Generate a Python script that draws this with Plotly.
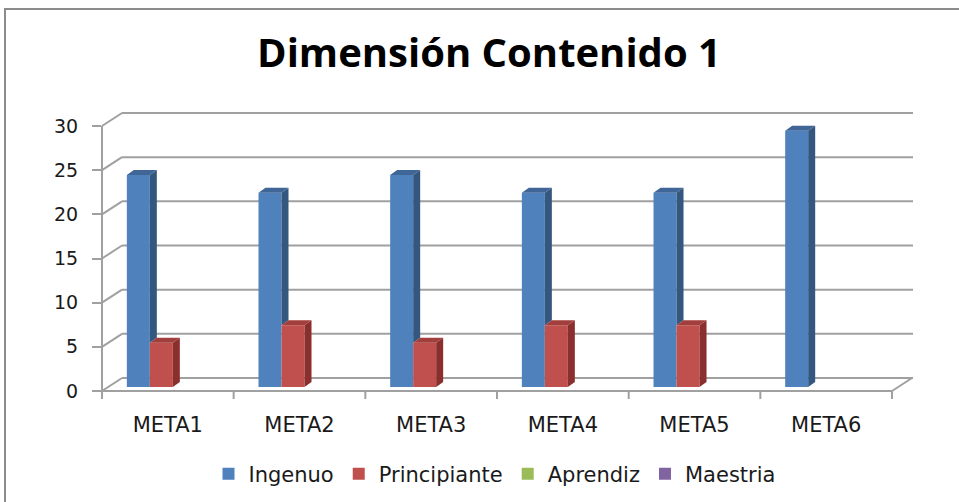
import plotly.graph_objects as go

# ---------------- data ----------------
CATEGORIES = ["META1", "META2", "META3", "META4", "META5", "META6"]
INGENUO = [24, 22, 24, 22, 22, 29]
PRINCIPIANTE = [5, 7, 5, 7, 7, 0]
APRENDIZ = [0, 0, 0, 0, 0, 0]
MAESTRIA = [0, 0, 0, 0, 0, 0]
SERIES_NAMES = ["Ingenuo", "Principiante", "Aprendiz", "Maestria"]
Y_TICKS = [0, 5, 10, 15, 20, 25, 30]
TITLE = "Dimensión Contenido 1"

SERIES = [INGENUO, PRINCIPIANTE, APRENDIZ, MAESTRIA]
FRONT = ["#4F81BD", "#C0504D", "#9BBB59", "#8064A2"]
SIDE = ["#34577F", "#8A2F2D", "#6E8A3A", "#5B4679"]
TOP = ["#3F6696", "#A23F3C", "#84A24A", "#6C548E"]

# ---------------- geometry (pixels) ----------------
W, H = 959, 502
ML, MR, MT, MB = 102, 46, 113, 111
PW, PH = W - ML - MR, H - MT - MB
CAT_PX = 131.67          # width of one category on the front axis
UNIT_PX = 265 / 30.0     # pixels per value unit on the front axis
X0 = -0.5
X1 = X0 + PW / CAT_PX
Y0 = 0.0
Y1 = PH / UNIT_PX

WALL_DX, WALL_DY = 20, 13      # back wall offset
BAR_SHIFT_X, BAR_SHIFT_Y = 5, 4
BAR_DX, BAR_DY = 7, 5
BAR_W_PX = 23

ux = lambda px: px / CAT_PX
uy = lambda px: px / UNIT_PX
BAR_W = ux(BAR_W_PX)
BASE = uy(BAR_SHIFT_Y)
DDX, DDY = ux(BAR_DX), uy(BAR_DY)


def to_px(xv, yv):
    return ML + (xv - X0) * CAT_PX, H - MB - (yv - Y0) * UNIT_PX


def paper(px, py):
    return (px - ML) / PW, (H - MB - py) / PH


def line(p1, p2, color="#a0a0a0", width=2):
    a, b = paper(*p1), paper(*p2)
    return dict(type="line", xref="paper", yref="paper", x0=a[0], y0=a[1],
                x1=b[0], y1=b[1], line=dict(color=color, width=width), layer="below")


fig = go.Figure()

xs = list(range(len(CATEGORIES)))
n = len(SERIES)
for k, (name, vals) in enumerate(zip(SERIES_NAMES, SERIES)):
    off = ux(BAR_SHIFT_X) - n / 2 * BAR_W + k * BAR_W
    fig.add_trace(go.Bar(
        x=xs, y=vals, base=[BASE] * len(vals), offset=off, width=BAR_W,
        name=name, marker=dict(color=FRONT[k], line=dict(width=0)),
        hovertemplate="%{y}<extra>" + name + "</extra>"))

# 3D faces
for k, vals in enumerate(SERIES):
    off = ux(BAR_SHIFT_X) - n / 2 * BAR_W + k * BAR_W
    sx, sy, tx, ty = [], [], [], []
    for i, v in enumerate(vals):
        if v <= 0:
            continue
        xl = xs[i] + off
        xr = xl + BAR_W
        top = BASE + v
        nxt = SERIES[k + 1][i] if k + 1 < n else 0
        b0 = BASE + min(nxt, v)
        sx += [xr, xr + DDX, xr + DDX, xr, xr, None]
        sy += [b0, b0 + DDY, top + DDY, top, b0, None]
        tx += [xl, xr, xr + DDX, xl + DDX, xl, None]
        ty += [top, top, top + DDY, top + DDY, top, None]
    if sx:
        fig.add_trace(go.Scatter(x=sx, y=sy, mode="lines", fill="toself",
                                 fillcolor=SIDE[k], line=dict(width=0),
                                 showlegend=False, hoverinfo="skip"))
        fig.add_trace(go.Scatter(x=tx, y=ty, mode="lines", fill="toself",
                                 fillcolor=TOP[k], line=dict(width=0),
                                 showlegend=False, hoverinfo="skip"))

# walls, floor, axis lines
shapes = []
right_back_px = ML + PW
for t in Y_TICKS:
    fx, fy = to_px(X0, t)
    shapes.append(line((fx + WALL_DX, fy - WALL_DY), (right_back_px, fy - WALL_DY)))
    shapes.append(line((fx, fy), (fx + WALL_DX, fy - WALL_DY)))
fx0, fy0 = to_px(X0, 0)
fxe, _ = to_px(len(CATEGORIES) - 0.5, 0)
shapes.append(line((fx0, fy0), (fxe, fy0)))
shapes.append(line((fxe, fy0), (fxe + WALL_DX, fy0 - WALL_DY)))
_, fy30 = to_px(X0, Y_TICKS[-1])
shapes.append(line((fx0, fy30), (fx0, fy0 + 8)))
for j in range(len(CATEGORIES) + 1):
    bx, _ = to_px(X0 + j, 0)
    shapes.append(line((bx, fy0), (bx, fy0 + 8)))
# outer border
b1, b2 = paper(5, 9), paper(970, 515)
shapes.append(dict(type="rect", xref="paper", yref="paper", x0=b1[0], y0=b1[1],
                   x1=b2[0], y1=b2[1], line=dict(color="#8c8c8c", width=2),
                   fillcolor="rgba(0,0,0,0)", layer="below"))

fig.update_layout(
    width=W, height=H,
    margin=dict(l=ML, r=MR, t=MT, b=MB, pad=0, autoexpand=False),
    paper_bgcolor="white", plot_bgcolor="white",
    barmode="overlay",
    shapes=shapes,
    title=dict(text=TITLE, x=489 / W, xanchor="center", y=1 - 53 / H, yanchor="middle",
               font=dict(family="Open Sans", size=40, color="black", weight="bold")),
    xaxis=dict(range=[X0, X1], tickvals=xs, ticktext=CATEGORIES, ticks="",
               showgrid=False, zeroline=False, showline=False, fixedrange=True,
               ticklabelstandoff=19, tickangle=0, automargin=False,
               tickfont=dict(family="DejaVu Sans", size=21, color="#1a1a1a")),
    yaxis=dict(range=[Y0, Y1], tickvals=Y_TICKS, ticks="outside", ticklen=9,
               tickwidth=2, tickcolor="#a0a0a0", showgrid=False, zeroline=False,
               showline=False, fixedrange=True, ticklabelstandoff=10, automargin=False,
               tickfont=dict(family="DejaVu Sans", size=19, color="#1a1a1a")),
    legend=dict(orientation="h", x=(494.5 - ML) / PW, xanchor="center",
                y=(H - MB - 474) / PH, yanchor="middle",
                font=dict(family="DejaVu Sans", size=21, color="#1a1a1a"),
                itemclick=False, itemdoubleclick=False),
    showlegend=True,
)

fig.write_html("out.html", config={"displayModeBar": False},
               post_script="document.body.style.margin='0';")
